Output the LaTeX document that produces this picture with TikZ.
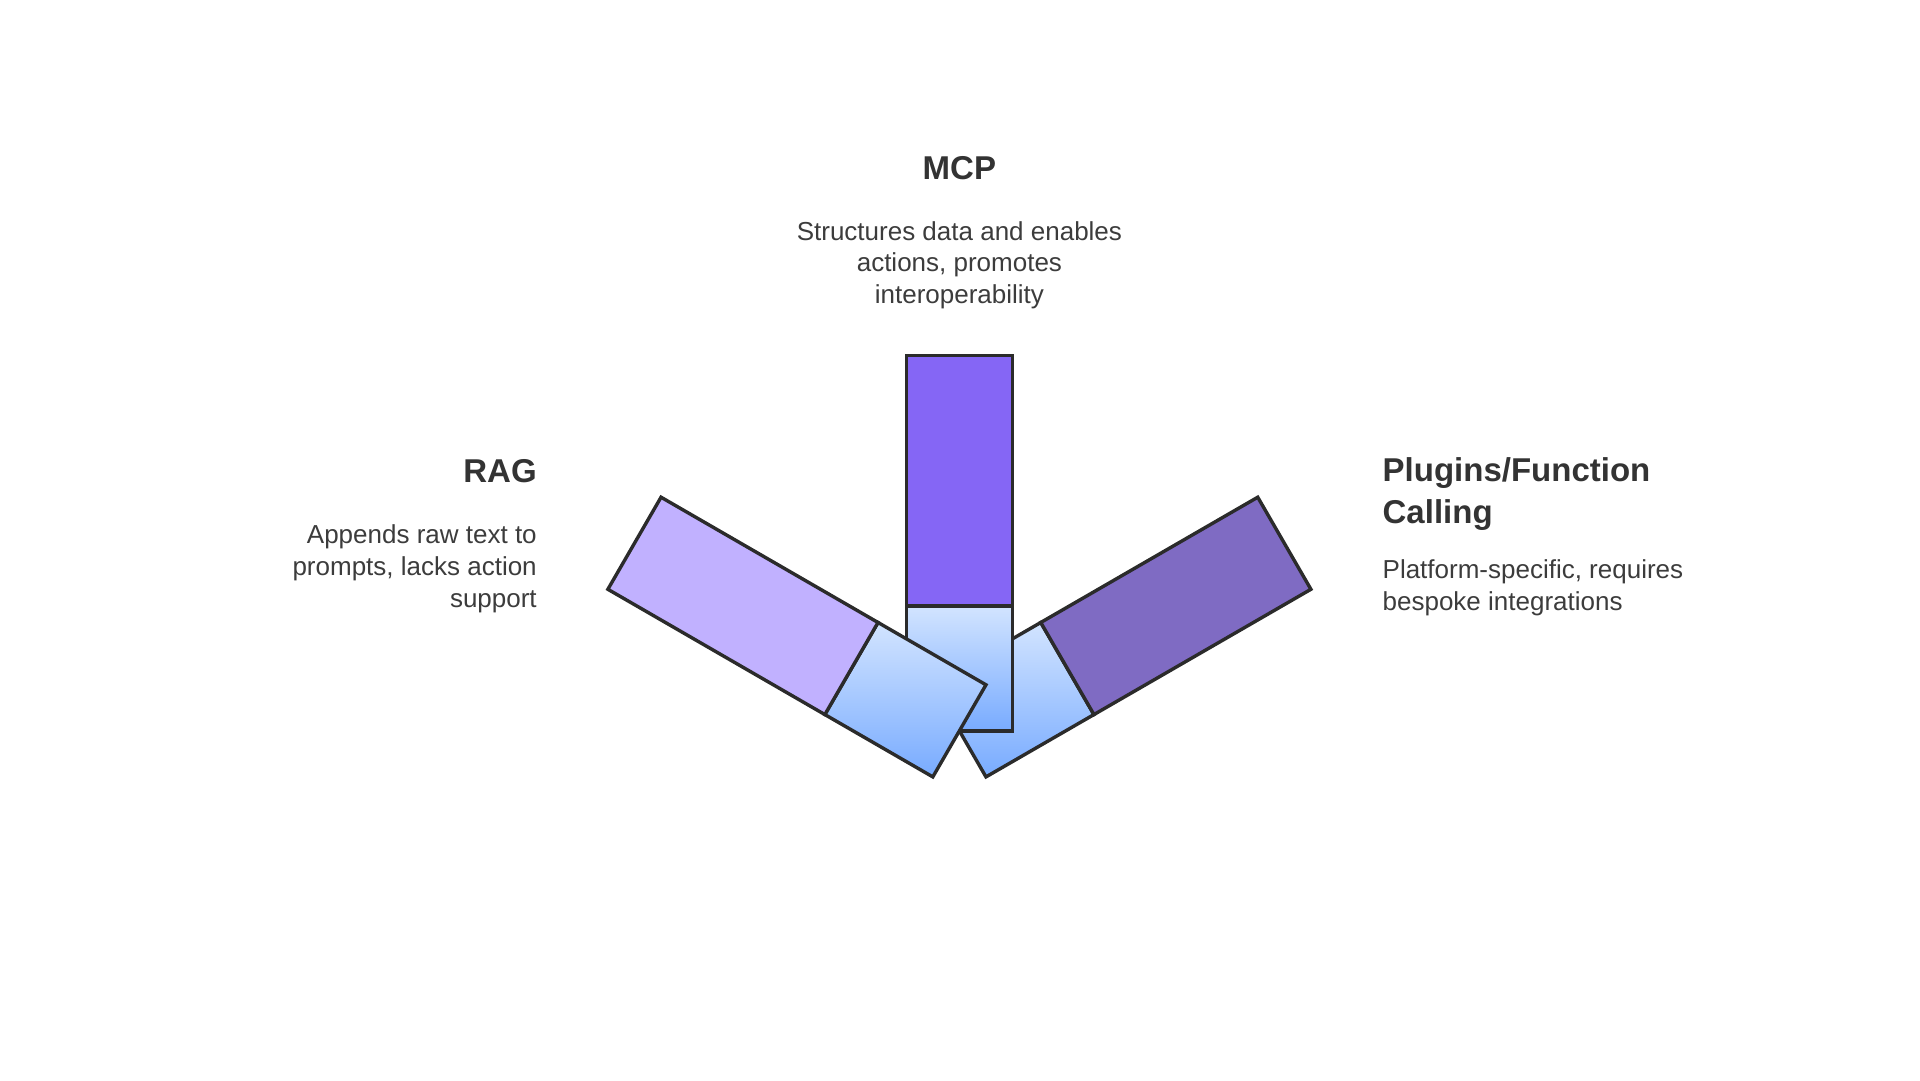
\documentclass[tikz,border=0pt]{standalone}
\usepackage{fontspec}
\setmainfont{Liberation Sans}
\usetikzlibrary{positioning}

\definecolor{barline}{HTML}{2B2B2B}
\definecolor{mcpfill}{HTML}{8566F5}
\definecolor{ragfill}{HTML}{C1B1FF}
\definecolor{plugfill}{HTML}{7F6BC3}
\definecolor{basetop}{HTML}{D2E4FF}
\definecolor{basebot}{HTML}{78ABFF}
\definecolor{titlegray}{HTML}{333333}
\definecolor{descgray}{HTML}{3C3C3C}

\begin{document}
\begin{tikzpicture}[x = 0.6111pt, y = -0.6111pt,
    bar/.style = {draw = barline, line width = 1.7pt, line join = miter},
    barbase/.style = {bar, top color = basetop, bottom color = basebot},
    title/.style = {font = \fontsize{16.5}{20.8}\selectfont\bfseries, text = titlegray, inner sep = 0pt},
    desc/.style = {font = \fontsize{13}{15.9}\selectfont, text = descgray, inner sep = 0pt}]
    \useasboundingbox (0,0) rectangle (1571,883.7);
    \coordinate (pivot) at (785,598);

    % Plugins bar (back)
    \begin{scope}[rotate around = {-60:(pivot)}]
        \draw[barbase] ([xshift = -43.5*0.6111pt]pivot) rectangle ++(87,-102);
        \draw[bar, fill = plugfill] ([xshift = -43.5*0.6111pt, yshift = 102*0.6111pt]pivot) rectangle ++(87,-205);
    \end{scope}
    % MCP bar
    \draw[barbase] ([xshift = -43.5*0.6111pt]pivot) rectangle ++(87,-102);
    \draw[bar, fill = mcpfill] ([xshift = -43.5*0.6111pt, yshift = 102*0.6111pt]pivot) rectangle ++(87,-205);
    % RAG bar (front)
    \begin{scope}[rotate around = {60:(pivot)}]
        \draw[barbase] ([xshift = -43.5*0.6111pt]pivot) rectangle ++(87,-102);
        \draw[bar, fill = ragfill] ([xshift = -43.5*0.6111pt, yshift = 102*0.6111pt]pivot) rectangle ++(87,-205);
    \end{scope}

    % labels
    \node[title, anchor = base] (mcptitle) at (785,147) {MCP};
    \node[desc, align = center, below = 20.2pt of mcptitle] (mcpdesc)
        {Structures data and enables\\actions, promotes\\interoperability};

    \node[title, anchor = base east] (ragtitle) at (439.5,395) {RAG};
    \node[desc, align = right, below = 20.4pt of ragtitle.south east, anchor = north east] (ragdesc)
        {Appends raw text to\\prompts, lacks action\\support};

    \node[title, align = left, anchor = base west] (plugtitle) at (1131,428) {Plugins/Function\\Calling};
    \node[desc, align = left, below = 14.6pt of plugtitle.south west, anchor = north west] (plugdesc)
        {Platform-specific, requires\\bespoke integrations};
\end{tikzpicture}
\end{document}
